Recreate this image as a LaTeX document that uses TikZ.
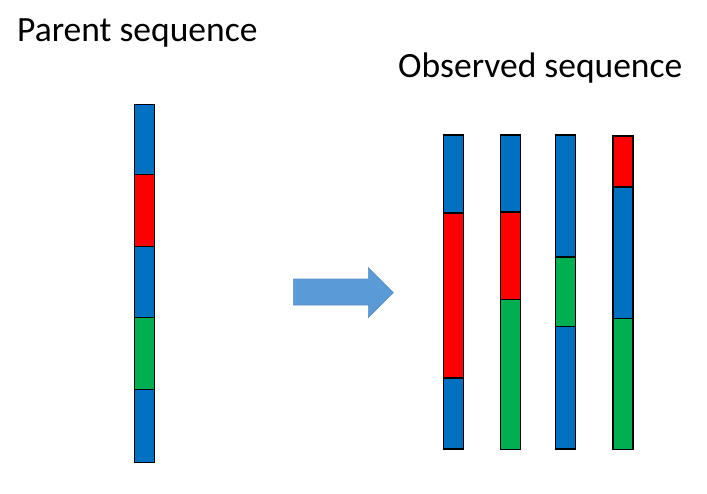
\documentclass[tikz,border=0pt]{standalone}
\usepackage{fontspec}
\setmainfont{Carlito}
\definecolor{segblue}{HTML}{0070C0}
\definecolor{segred}{HTML}{FF0000}
\definecolor{seggreen}{HTML}{00B050}
\definecolor{arrowfill}{HTML}{5B9BD5}
\definecolor{arrowline}{HTML}{5A8FC8}
\newcommand{\seg}[6]{% name, x, ytop, ybottom, colour, width
  \node[segbox, fill=#5, minimum width=#6pt, minimum height={(#4-#3)*1pt}] (#1) at (#2, #3) {};}
\begin{document}
\begin{tikzpicture}[x=1pt,y=-1pt,
  segbox/.style={draw=black, line width=1.4pt, inner sep=0pt, outer sep=0pt, anchor=north west},
  title/.style={anchor=base west, inner sep=0pt, font=\fontsize{35.5}{42}\selectfont}]
\useasboundingbox (0,0) rectangle (707,493);
\fill[white] (0,0) rectangle (707,493);
% titles
\node[title] (tp) at (17,41.3) {Parent sequence};
\node[title] (to) at (398,77.5) {Observed sequence};
% parent sequence
\seg{p1}{134.3}{104.3}{174.5}{segblue}{20.4}
\seg{p2}{134.3}{174.5}{246.5}{segred}{20.4}
\seg{p3}{134.3}{246.5}{317.5}{segblue}{20.4}
\seg{p4}{134.3}{317.5}{389.5}{seggreen}{20.4}
\seg{p5}{134.3}{389.5}{462.3}{segblue}{20.4}
% observed 1
\seg{a1}{443.4}{135}{212.8}{segblue}{20}
\seg{a2}{443.4}{212.8}{377.8}{segred}{20}
\seg{a3}{443.4}{377.8}{449}{segblue}{20}
% observed 2
\seg{b1}{500.5}{135}{212}{segblue}{20.2}
\seg{b2}{500.5}{212}{299.3}{segred}{20.2}
\seg{b3}{500.5}{299.3}{449.3}{seggreen}{20.2}
% observed 3
\seg{c1}{555.5}{135}{257}{segblue}{20.2}
\seg{c2}{555.5}{257}{326.7}{seggreen}{20.2}
\seg{c3}{555.5}{326.7}{449}{segblue}{20.2}
% observed 4
\seg{d1}{612.8}{136}{187}{segred}{20.2}
\seg{d2}{612.8}{187}{318.3}{segblue}{20.2}
\seg{d3}{612.8}{318.3}{449.3}{seggreen}{20.2}
% block arrow
\draw[fill=arrowfill, draw=arrowline, line width=0.6pt, line join=miter]
  (293.3,279) -- (368.3,279) -- (368.3,267.7) -- (393.3,292.7)
  -- (368.3,317.7) -- (368.3,305) -- (293.3,305) -- cycle;
\end{tikzpicture}
\end{document}
